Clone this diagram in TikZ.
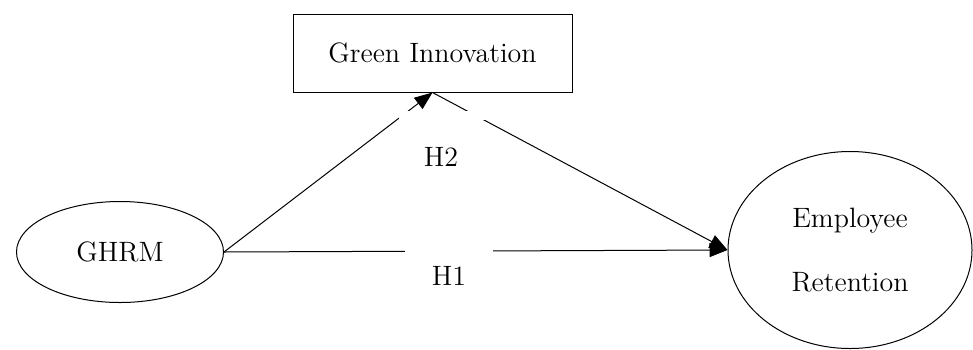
\documentclass[tikz,border=0pt]{standalone}
\usetikzlibrary{shapes.geometric,arrows.meta}
\begin{document}
\begin{tikzpicture}[x=0.5pt,y=-0.5pt,
  every node/.style={font=\fontsize{14}{17}\selectfont},
  construct/.style={draw=black, line width=0.5pt, ellipse, inner sep=0pt},
  mediator/.style={draw=black, line width=0.5pt, rectangle, inner sep=0pt},
  conn/.style={black, line width=0.5pt, -{Triangle[length=9pt,width=7pt]}},
  hyp/.style={inner sep=0pt}]

\useasboundingbox (0,0) rectangle (973,349);

\node[mediator, minimum width=139.5pt, minimum height=39pt] (gi) at (432.5,53) {Green Innovation};
\node[construct, minimum width=103.5pt, minimum height=50.5pt] (ghrm) at (120,252) {GHRM};
\node[construct, minimum width=122pt, minimum height=98.5pt, align=center] (er) at (850,250)
  {\raisebox{-3.5pt}{Employee}\\[15pt]\raisebox{-3.5pt}{Retention}};

\draw[conn] (ghrm.east) -- (gi.south);
\draw[conn] (gi.south) -- (er.west);
\draw[conn] (ghrm.east) -- (er.west);

% textbox gaps
\fill[white] (399,111) rectangle (486,120);

\node[hyp, fill=white, minimum width=44pt, minimum height=28pt] (h1) at (449,276) {H1};
\node[hyp] (h2) at (441,157) {H2};

\end{tikzpicture}
\end{document}
